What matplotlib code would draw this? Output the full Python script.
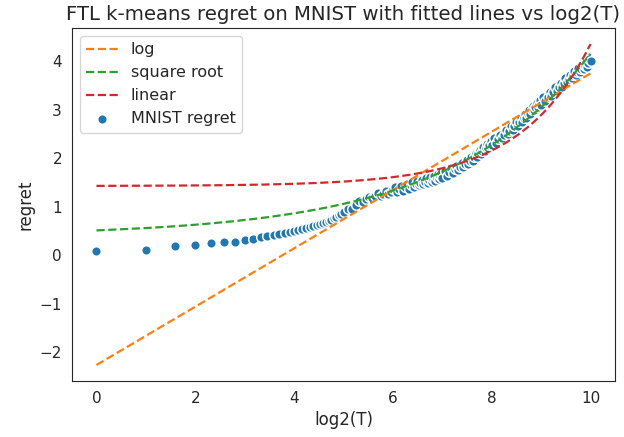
"""
FTL k-means regret on MNIST, with log / sqrt / linear fits, against log2(T).
"""

import numpy as np
import matplotlib
matplotlib.use("Agg")
import matplotlib.pyplot as plt
import seaborn as sns

T_values = (list(range(1, 33))
            + list(range(34, 65, 2))
            + list(range(66, 129, 2))
            + list(range(132, 257, 4))
            + list(range(264, 513, 8))
            + list(range(528, 1025, 16)))

regret = [
    # T = 1 .. 32
    0.08, 0.10, 0.18, 0.21, 0.24, 0.27, 0.28, 0.31, 0.33, 0.38,
    0.40, 0.42, 0.43, 0.45, 0.47, 0.49, 0.51, 0.53, 0.55, 0.58,
    0.60, 0.62, 0.64, 0.66, 0.68, 0.70, 0.73, 0.76, 0.79, 0.82,
    0.85, 0.88,
    # T = 34 .. 64
    0.96, 0.96, 1.04, 1.11, 1.09, 1.15, 1.21, 1.18, 1.23, 1.28,
    1.23, 1.27, 1.32, 1.27, 1.31, 1.36,
    # T = 66 .. 128
    1.40, 1.30, 1.36, 1.43, 1.33, 1.40, 1.47, 1.37, 1.44, 1.51,
    1.41, 1.47, 1.54, 1.44, 1.49, 1.56, 1.46, 1.52, 1.59, 1.49,
    1.55, 1.62, 1.52, 1.58, 1.64, 1.54, 1.60, 1.67, 1.57, 1.63,
    1.70, 1.60,
    # T = 132 .. 256
    1.73, 1.64, 1.71, 1.79, 1.70, 1.77, 1.85, 1.76, 1.83, 1.91,
    1.82, 1.89, 1.97, 1.88, 1.95, 2.03, 1.95, 2.02, 2.11, 2.02,
    2.10, 2.18, 2.09, 2.16, 2.24, 2.15, 2.22, 2.30, 2.21, 2.28,
    2.36, 2.27,
    # T = 264 .. 512
    2.41, 2.32, 2.40, 2.49, 2.41, 2.49, 2.58, 2.50, 2.57, 2.66,
    2.58, 2.66, 2.75, 2.67, 2.75, 2.84, 2.75, 2.83, 2.92, 2.83,
    2.91, 3.00, 2.91, 2.99, 3.07, 2.99, 3.06, 3.14, 3.05, 3.12,
    3.20, 3.11,
    # T = 528 .. 1024
    3.26, 3.18, 3.27, 3.36, 3.29, 3.37, 3.47, 3.39, 3.47, 3.56,
    3.48, 3.56, 3.65, 3.57, 3.64, 3.73, 3.65, 3.72, 3.81, 3.72,
    3.79, 3.87, 3.78, 3.85, 3.93, 3.84, 3.90, 3.98, 3.89, 3.96,
    4.04, 4.00,
]

# fitted coefficients (y = a * f(T) + b)
log_fit = (0.869, -2.27)        # f(T) = ln T
sqrt_fit = (0.1177, 0.392)      # f(T) = sqrt T
linear_fit = (0.002864, 1.427)  # f(T) = T


def main():
    sns.set_style("white")
    plt.rcParams["font.family"] = ["DejaVu Sans"]

    T = np.array(T_values, dtype=float)
    y = np.array(regret)
    T_line = np.arange(1, 1025, dtype=float)
    x_line = np.log2(T_line)

    fig = plt.figure(figsize=(6.24, 4.37), dpi=100)
    ax = fig.add_axes([0.115, 0.128, 0.871, 0.808])

    ax.plot(x_line, log_fit[0] * np.log(T_line) + log_fit[1], "--",
            color="tab:orange", lw=1.6, label="log")
    ax.plot(x_line, sqrt_fit[0] * np.sqrt(T_line) + sqrt_fit[1], "--",
            color="tab:green", lw=1.6, label="square root")
    ax.plot(x_line, linear_fit[0] * T_line + linear_fit[1], "--",
            color="tab:red", lw=1.6, label="linear")
    # white rim: overlapping points fade to a light band, as in the original
    ax.scatter(np.log2(T), y, s=48, color="tab:blue", edgecolor="white",
               linewidth=1.1, label="MNIST regret")

    ax.set_title("FTL k-means regret on MNIST with fitted lines vs log2(T)",
                 fontsize=14.2)
    ax.set_xlabel("log2(T)", fontsize=12)
    ax.set_ylabel("regret", fontsize=12)
    ax.tick_params(labelsize=11)
    ax.legend(loc="upper left", fontsize=11.5)

    fig.savefig("out.png", dpi=100)


if __name__ == "__main__":
    main()
